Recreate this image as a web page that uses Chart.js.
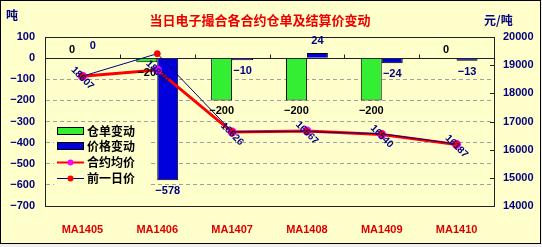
<!DOCTYPE html>
<html>
<head>
<meta charset="utf-8">
<script src="https://cdn.jsdelivr.net/npm/chart.js@4.4.0/dist/chart.umd.min.js"></script>
<style>
    html, body { margin: 0; padding: 0; background: #f0f0f0; }
    #wrap { width: 542px; height: 247px; }
</style>
</head>
<body>
<div id="wrap"><canvas id="chart" width="542" height="247"></canvas></div>
<script>
// contracts on the x axis
const contracts = ['MA1405', 'MA1406', 'MA1407', 'MA1408', 'MA1409', 'MA1410'];
// 仓单变动 (吨)
const receiptChange = [0, -20, -200, -200, -200, 0];
// 价格变动 (元/吨)
const priceChange = [0, -578, -10, 24, -24, -13];
// 合约均价 (元/吨, right axis)
const avgPrice = [18607, 18830, 16626, 16667, 16540, 16187];
// 前一日价 (元/吨, right axis)
const prevPrice = [18607, 19408, 16636, 16643, 16564, 16200];

const BG = '#ffffcc';
const NAVY = '#000080';
const NUM_FONT = '"Liberation Sans", Arial, sans-serif';
const CJK_FONT = '"Noto Sans CJK SC", sans-serif';

const fmt = v => (v < 0 ? '\u2212' + Math.abs(v) : String(v));

const decorPlugin = {
    id: 'decor',
    beforeDraw(chart) {
        const { ctx, width, height } = chart;
        ctx.save();
        ctx.fillStyle = '#f0f0f0';
        ctx.fillRect(0, 0, width, height);
        ctx.fillStyle = BG;
        ctx.fillRect(0, 0, width - 1, height - 3);
        ctx.strokeStyle = '#000';
        ctx.lineWidth = 1;
        ctx.strokeRect(0.5, 0.5, width - 2, height - 4);

        // title and units
        ctx.textBaseline = 'middle';
        ctx.textAlign = 'center';
        ctx.fillStyle = '#ee0000';
        ctx.font = 'bold 13px ' + CJK_FONT;
        ctx.fillText('当日电子撮合各合约仓单及结算价变动', 260, 20);
        ctx.fillStyle = NAVY;
        ctx.font = 'bold 12px ' + CJK_FONT;
        ctx.textAlign = 'left';
        ctx.fillText('吨', 6, 15);
        ctx.fillText('元/吨', 484, 20);
        ctx.restore();
    },
    beforeDatasetsDraw(chart) {
        const { ctx, chartArea: a, scales } = chart;
        const y0 = Math.round(scales.y.getPixelForValue(0)) + 0.5;
        ctx.save();
        ctx.strokeStyle = '#222';
        ctx.lineWidth = 1;
        ctx.beginPath();
        // zero line with category boundary ticks
        ctx.moveTo(a.left, y0);
        ctx.lineTo(a.right, y0);
        for (let i = 0; i < contracts.length - 1; i++) {
            const x = Math.round((scales.x.getPixelForValue(i) + scales.x.getPixelForValue(i + 1)) / 2) + 0.5;
            ctx.moveTo(x, y0);
            ctx.lineTo(x, y0 - 4);
        }
        // top of the plot frame
        ctx.moveTo(a.left, a.top + 0.5);
        ctx.lineTo(a.right, a.top + 0.5);
        // right axis ticks pointing inward
        scales.y1.ticks.forEach(t => {
            const y = Math.round(scales.y1.getPixelForValue(t.value)) + 0.5;
            ctx.moveTo(a.right - 4, y);
            ctx.lineTo(a.right, y);
        });
        ctx.stroke();
        ctx.restore();
    },
    afterDatasetsDraw(chart) {
        const { ctx } = chart;
        ctx.save();
        ctx.textAlign = 'center';
        ctx.textBaseline = 'middle';
        ctx.font = 'bold 11px ' + NUM_FONT;

        // bar value labels
        [0, 1].forEach(di => {
            const meta = chart.getDatasetMeta(di);
            const data = chart.data.datasets[di].data;
            ctx.fillStyle = di === 0 ? '#000' : NAVY;
            meta.data.forEach((bar, i) => {
                const v = data[i];
                const y = v < 0 ? bar.y + 11 : bar.y - (di === 0 ? 8 : 12);
                ctx.fillText(fmt(v), bar.x, y);
            });
        });

        // rotated labels on 合约均价
        ctx.fillStyle = NAVY;
        ctx.font = 'bold 10px ' + NUM_FONT;
        chart.getDatasetMeta(2).data.forEach((pt, i) => {
            ctx.save();
            ctx.translate(pt.x, pt.y + 2);
            ctx.rotate(Math.PI / 4);
            ctx.fillText(String(avgPrice[i]), 0, 0);
            ctx.restore();
        });
        ctx.restore();
    },
    afterDraw(chart) {
        // legend sitting inside the plot
        const { ctx } = chart;
        const rows = [131, 146, 162, 178];
        ctx.save();
        ctx.fillStyle = BG;
        ctx.fillRect(54, 123, 96, 63);
        ctx.font = 'bold 12px ' + CJK_FONT;
        ctx.textBaseline = 'middle';
        ctx.textAlign = 'left';
        chart.data.datasets.forEach((ds, i) => {
            const y = rows[i];
            if (ds.type === 'bar') {
                ctx.fillStyle = ds.backgroundColor;
                ctx.fillRect(57.5, y - 3.5, 26, 7);
                ctx.strokeStyle = '#000';
                ctx.lineWidth = 1;
                ctx.strokeRect(57.5, y - 3.5, 26, 7);
            } else {
                ctx.strokeStyle = ds.borderColor;
                ctx.lineWidth = i === 2 ? 2 : 1;
                ctx.beginPath();
                ctx.moveTo(57, y + 0.5);
                ctx.lineTo(84, y + 0.5);
                ctx.stroke();
                ctx.fillStyle = ds.pointBackgroundColor;
                ctx.beginPath();
                ctx.arc(70.5, y + 0.5, 3, 0, Math.PI * 2);
                ctx.fill();
            }
            ctx.fillStyle = '#000';
            ctx.fillText(ds.label, 87, y);
        });
        ctx.restore();
    }
};

new Chart(document.getElementById('chart'), {
    type: 'bar',
    data: {
        labels: contracts,
        datasets: [
            {
                type: 'bar',
                label: '仓单变动',
                data: receiptChange,
                backgroundColor: '#33ee33',
                borderColor: '#000',
                borderWidth: 1,
                yAxisID: 'y',
                order: 2,
                categoryPercentage: 0.56,
                barPercentage: 1
            },
            {
                type: 'bar',
                label: '价格变动',
                data: priceChange,
                backgroundColor: '#0000dd',
                borderColor: '#000',
                borderWidth: 1,
                yAxisID: 'y',
                order: 2,
                categoryPercentage: 0.56,
                barPercentage: 1
            },
            {
                type: 'line',
                label: '合约均价',
                data: avgPrice,
                borderColor: '#ff0000',
                borderWidth: 3,
                pointBackgroundColor: '#ff00ff',
                pointBorderColor: '#ff00ff',
                pointRadius: 3,
                yAxisID: 'y1',
                order: 1
            },
            {
                type: 'line',
                label: '前一日价',
                data: prevPrice,
                borderColor: NAVY,
                borderWidth: 1,
                pointBackgroundColor: '#ff0000',
                pointBorderColor: '#ff0000',
                pointRadius: 3,
                yAxisID: 'y1',
                order: 0
            }
        ]
    },
    options: {
        responsive: false,
        animation: false,
        devicePixelRatio: 1,
        layout: { padding: { top: 37, left: 0, right: 0, bottom: 0 } },
        plugins: {
            legend: { display: false },
            tooltip: { enabled: false },
            title: { display: false }
        },
        scales: {
            x: {
                offset: true,
                grid: { display: false, drawTicks: false },
                border: { display: true, color: '#222' },
                ticks: {
                    color: '#dd0000',
                    font: { family: NUM_FONT, size: 11, weight: 'bold' },
                    padding: 17,
                    maxRotation: 0,
                    autoSkip: false
                },
                afterFit: s => { s.height = 41; }
            },
            y: {
                position: 'left',
                min: -700,
                max: 100,
                ticks: {
                    stepSize: 100,
                    color: NAVY,
                    padding: 10,
                    font: { family: NUM_FONT, size: 11, weight: 'bold' },
                    callback: v => fmt(v)
                },
                grid: {
                    drawTicks: false,
                    color: c => (c.tick && (c.tick.value === 0 || c.tick.value === 100 || c.tick.value === -700)) ? 'rgba(0,0,0,0)' : '#a0a0a0'
                },
                border: { color: '#222', dash: [4, 3] },
                afterFit: s => { s.width = 45; }
            },
            y1: {
                position: 'right',
                min: 14000,
                max: 20000,
                ticks: {
                    stepSize: 1000,
                    color: NAVY,
                    padding: 9,
                    font: { family: NUM_FONT, size: 11, weight: 'bold' },
                    callback: v => String(v)
                },
                grid: { display: false, drawTicks: false },
                border: { color: '#222' },
                afterFit: s => { s.width = 48; }
            }
        }
    },
    plugins: [decorPlugin]
});
</script>
</body>
</html>
